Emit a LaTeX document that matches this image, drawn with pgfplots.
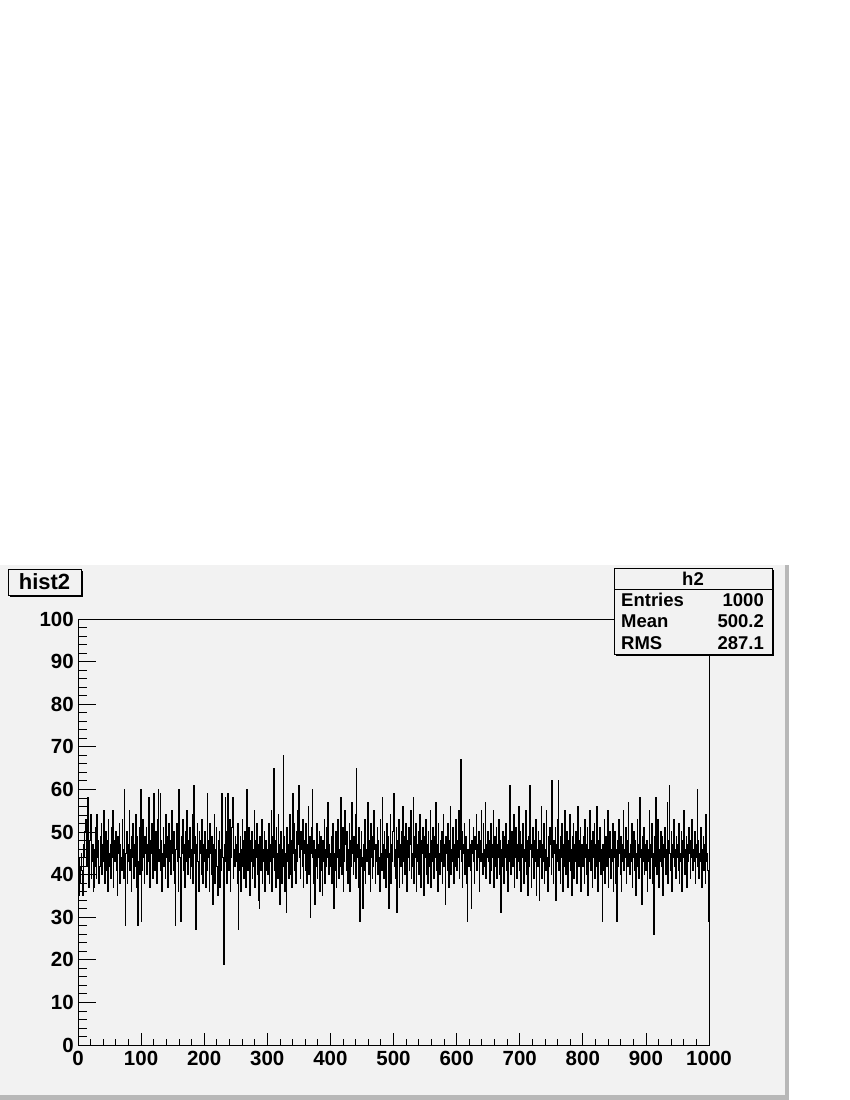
\documentclass[border=0pt]{standalone}
\usepackage{fontspec}
\setmainfont{Liberation Sans}
\usepackage{pgfplots}
\usepackage{pgfplotstable}
\pgfplotsset{compat=1.18}
\definecolor{canvas}{HTML}{F2F2F2}
\definecolor{rim}{HTML}{B8B8B8}
\newcommand\rf[1]{\fontsize{#1}{#1}\selectfont\bfseries}

% h2 bin contents, 1000 bins of width 1 (last value repeated to close the step at 1000)
\pgfplotstableread[row sep=\\]{
y\\
40\\35\\44\\38\\42\\45\\41\\35\\43\\47\\44\\50\\53\\46\\42\\58\\41\\37\\45\\48\\54\\39\\43\\47\\36\\
37\\46\\42\\51\\39\\54\\44\\48\\38\\42\\49\\45\\52\\40\\47\\43\\55\\38\\46\\50\\41\\48\\36\\53\\45\\
42\\47\\39\\51\\44\\55\\37\\48\\43\\46\\50\\41\\35\\49\\45\\52\\38\\47\\44\\41\\53\\46\\39\\60\\42\\
28\\45\\50\\38\\47\\43\\55\\41\\46\\36\\49\\44\\52\\39\\47\\42\\54\\37\\45\\49\\28\\43\\51\\40\\60\\
29\\46\\41\\53\\44\\38\\49\\45\\51\\40\\47\\43\\58\\42\\37\\48\\45\\52\\39\\46\\59\\44\\41\\50\\47\\
38\\53\\60\\43\\46\\59\\41\\48\\36\\45\\51\\42\\47\\39\\54\\44\\49\\37\\46\\52\\43\\48\\40\\55\\45\\
47\\41\\50\\38\\28\\46\\52\\43\\48\\36\\60\\44\\39\\29\\49\\45\\53\\41\\47\\37\\50\\43\\55\\46\\40\\
48\\44\\51\\39\\46\\42\\54\\38\\61\\45\\49\\41\\27\\47\\52\\43\\36\\50\\45\\48\\40\\53\\44\\38\\47\\
43\\50\\37\\46\\41\\59\\44\\48\\36\\52\\45\\40\\49\\33\\47\\43\\54\\38\\46\\51\\42\\35\\48\\44\\50\\
37\\46\\41\\59\\44\\40\\19\\47\\58\\43\\50\\38\\59\\45\\41\\53\\36\\48\\44\\51\\58\\39\\46\\42\\49\\
43\\47\\38\\52\\27\\45\\41\\49\\36\\46\\53\\42\\48\\39\\50\\44\\37\\60\\45\\41\\51\\47\\35\\48\\43\\
50\\39\\46\\42\\55\\37\\48\\44\\52\\40\\47\\34\\32\\49\\45\\41\\53\\38\\46\\43\\50\\36\\48\\44\\41\\
46\\40\\52\\38\\47\\43\\55\\36\\49\\44\\65\\41\\48\\37\\51\\45\\39\\54\\42\\47\\33\\50\\44\\38\\46\\
68\\42\\49\\36\\45\\31\\51\\43\\47\\39\\54\\44\\40\\48\\37\\59\\45\\52\\41\\46\\38\\50\\43\\55\\47\\
61\\44\\39\\50\\46\\42\\53\\37\\48\\45\\41\\52\\38\\47\\43\\56\\40\\49\\30\\45\\51\\60\\44\\38\\48\\
33\\46\\42\\52\\39\\47\\44\\50\\36\\45\\49\\41\\35\\48\\43\\53\\38\\46\\42\\51\\44\\57\\40\\47\\45\\
42\\49\\38\\46\\52\\32\\45\\41\\50\\37\\47\\44\\53\\39\\46\\42\\58\\45\\40\\51\\36\\48\\43\\55\\47\\
41\\50\\38\\46\\44\\52\\36\\48\\42\\57\\45\\40\\49\\43\\54\\39\\65\\47\\44\\37\\51\\29\\46\\42\\50\\
44\\32\\47\\41\\53\\38\\46\\43\\50\\57\\45\\40\\48\\36\\52\\44\\39\\49\\42\\55\\46\\38\\47\\43\\51\\
40\\48\\44\\36\\53\\45\\41\\58\\47\\39\\50\\43\\46\\37\\52\\44\\49\\32\\45\\41\\54\\38\\47\\43\\50\\
59\\42\\46\\39\\51\\31\\48\\44\\53\\37\\47\\42\\50\\45\\38\\56\\43\\49\\40\\52\\46\\36\\48\\44\\51\\
41\\47\\55\\39\\45\\42\\58\\38\\49\\44\\52\\36\\47\\43\\50\\40\\54\\46\\37\\48\\45\\51\\42\\35\\49\\
44\\53\\40\\47\\38\\50\\45\\42\\55\\37\\48\\43\\51\\46\\39\\49\\44\\57\\41\\47\\36\\52\\45\\40\\48\\
43\\50\\38\\46\\54\\42\\47\\33\\49\\45\\41\\52\\37\\48\\44\\56\\40\\46\\43\\51\\38\\47\\45\\42\\53\\
41\\48\\44\\55\\39\\46\\67\\43\\50\\37\\47\\45\\52\\40\\49\\44\\38\\29\\46\\42\\53\\47\\41\\32\\48\\
45\\51\\43\\38\\49\\46\\54\\41\\47\\44\\50\\36\\48\\43\\55\\45\\40\\52\\46\\42\\57\\39\\47\\44\\50\\
43\\48\\38\\46\\52\\41\\47\\44\\55\\37\\49\\45\\42\\51\\39\\47\\44\\53\\40\\48\\31\\46\\42\\50\\45\\
38\\49\\44\\52\\41\\47\\36\\48\\43\\61\\45\\40\\50\\46\\42\\54\\37\\48\\44\\51\\39\\47\\43\\56\\45\\
41\\50\\36\\47\\44\\52\\38\\46\\43\\55\\40\\48\\45\\35\\49\\42\\61\\46\\37\\47\\44\\51\\39\\48\\43\\
53\\35\\46\\42\\50\\45\\34\\48\\44\\56\\39\\47\\43\\52\\38\\46\\41\\55\\44\\36\\49\\45\\42\\51\\47\\
40\\62\\44\\38\\48\\45\\51\\34\\47\\43\\53\\62\\41\\46\\38\\49\\44\\52\\36\\47\\42\\55\\45\\40\\50\\
44\\37\\48\\43\\54\\41\\46\\35\\49\\45\\52\\39\\47\\43\\50\\38\\46\\56\\42\\48\\44\\51\\36\\47\\45\\
42\\49\\38\\53\\44\\47\\40\\51\\35\\46\\43\\55\\41\\48\\45\\37\\50\\44\\52\\39\\47\\42\\56\\45\\36\\
48\\43\\51\\40\\46\\44\\29\\47\\41\\53\\38\\49\\45\\42\\55\\37\\48\\44\\50\\39\\46\\43\\52\\36\\47\\
44\\50\\38\\46\\29\\48\\42\\53\\45\\40\\49\\36\\47\\43\\55\\41\\46\\44\\51\\38\\48\\42\\57\\45\\40\\
47\\43\\52\\37\\46\\44\\50\\41\\48\\35\\45\\53\\42\\47\\39\\58\\44\\46\\33\\49\\43\\51\\40\\47\\45\\
41\\48\\36\\46\\43\\55\\39\\47\\44\\52\\38\\45\\26\\49\\42\\58\\44\\40\\47\\53\\37\\46\\43\\50\\45\\
42\\49\\35\\47\\44\\51\\40\\46\\43\\57\\38\\48\\61\\45\\41\\50\\36\\47\\44\\53\\42\\46\\39\\49\\44\\
47\\41\\52\\38\\45\\43\\50\\36\\48\\44\\55\\40\\46\\42\\49\\37\\47\\43\\51\\45\\39\\48\\44\\53\\41\\
46\\43\\50\\38\\47\\44\\60\\42\\48\\39\\45\\43\\51\\37\\46\\44\\49\\41\\47\\38\\54\\43\\45\\41\\29\\
29\\
}\histdata

\pgfplotsset{rootframe/.style={
  at={(78pt,55pt)}, anchor=south west, scale only axis,
  width=631pt, height=426pt,
  xmin=0, xmax=1000, ymin=0, ymax=100,
  tick align=inside, tick pos=left,
  axis line style={line width=0.8pt},
  every tick/.style={black, line width=0.8pt},
  /pgf/number format/assume math mode=true,
  /pgf/number format/1000 sep={},
  tick label style={font=\rf{20.5}},
}}

\begin{document}
\begin{tikzpicture}[x=1pt,y=1pt]
\path[use as bounding box] (0,0) rectangle (850,1100);
% canvas with its rim
\fill[rim] (0,0) rectangle (789,535);
\fill[canvas] (0,5) rectangle (785,535);

% y axis with its ticks
\begin{axis}[rootframe,
  xtick=\empty,
  ytick={0,10,...,100}, minor y tick num=4,
  major tick length=18pt, minor tick length=9pt,
  yticklabel style={anchor=east, inner sep=0pt, xshift=-4pt}]
\end{axis}

% x axis, ticks and the histogram
\begin{axis}[rootframe,
  ytick=\empty,
  xtick={0,100,...,1000}, minor x tick num=4,
  major tick length=12pt, minor tick length=6pt,
  xticklabel style={anchor=north, inner sep=0pt, yshift=-6pt}]
\addplot[const plot, black, line width=1pt] table[x expr=\coordindex, y=y] {\histdata};
\end{axis}

% title box
\fill[black] (10,503) rectangle (83,529);
\draw[fill=canvas, line width=0.8pt] (8,505) rectangle (81,531);
\node[font=\rf{22}] at (44.5,518) {hist2};

% stats box
\fill[black] (616,444) rectangle (774,530);
\draw[fill=canvas, line width=0.8pt] (614,446) rectangle (772,532);
\draw[line width=0.8pt] (614,511) -- (772,511);
\begin{scope}[every node/.style={font=\rf{18.5}, inner sep=0pt}]
\node at (693,521.5) {h2};
\node[anchor=west] at (621,500) {Entries};
\node[anchor=east] at (764,500) {1000};
\node[anchor=west] at (621,478.5) {Mean};
\node[anchor=east] at (764,478.5) {500.2};
\node[anchor=west] at (621,457) {RMS};
\node[anchor=east] at (764,457) {287.1};
\end{scope}
\end{tikzpicture}
\end{document}
